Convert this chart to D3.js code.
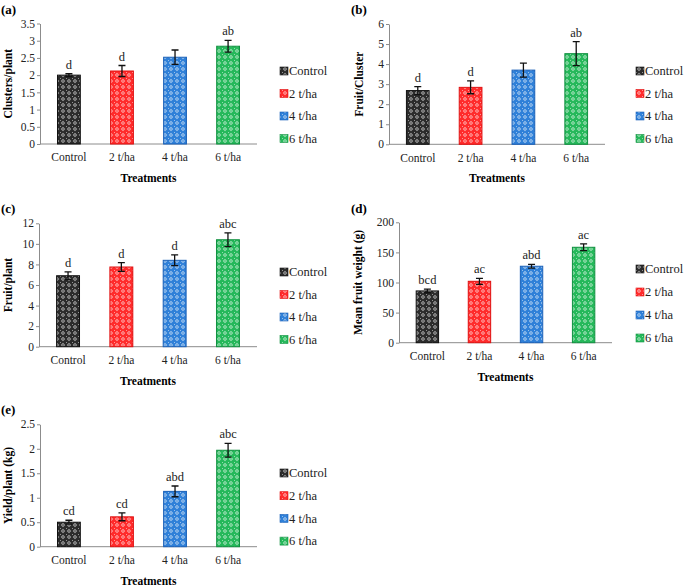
<!DOCTYPE html>
<html><head><meta charset="utf-8">
<script src="https://cdn.jsdelivr.net/npm/d3@7"></script>
<style>body{margin:0;background:#fff}svg{display:block;font-family:"Liberation Serif","Times New Roman",serif}</style>
</head><body><svg id="c" width="685" height="588"></svg>
<script>
const categories = ["Control", "2 t/ha", "4 t/ha", "6 t/ha"];
const colors = ["#2b2b2b", "#ff2b2b", "#2f80d8", "#25b85a"];
const borders = ["#111111", "#e01010", "#1a60b8", "#119040"];

const clustersPerPlant = [2.0, 2.12, 2.52, 2.84];
const clustersErr = [0.04, 0.16, 0.21, 0.17];
const clustersLetters = ["d", "d", "", "ab"];

const fruitPerCluster = [2.68, 2.84, 3.70, 4.52];
const fruitClusterErr = [0.2, 0.32, 0.35, 0.6];
const fruitClusterLetters = ["d", "d", "", "ab"];

const fruitPerPlant = [6.9, 7.75, 8.4, 10.4];
const fruitPlantErr = [0.38, 0.42, 0.52, 0.66];
const fruitPlantLetters = ["d", "d", "d", "abc"];

const meanFruitWeight = [86, 102, 127, 158.5];
const meanWeightErr = [3, 5, 3, 5.5];
const meanWeightLetters = ["bcd", "ac", "abd", "ac"];

const yieldPerPlant = [0.5, 0.61, 1.13, 1.97];
const yieldErr = [0.04, 0.08, 0.11, 0.14];
const yieldLetters = ["cd", "cd", "abd", "abc"];

const svg = d3.select("#c");
const defs = svg.append("defs");
colors.forEach((c, i) => {
  const p = defs.append("pattern").attr("id", "pat" + i).attr("patternUnits", "userSpaceOnUse")
    .attr("width", 6).attr("height", 6);
  p.append("rect").attr("width", 6).attr("height", 6).attr("fill", c);
  p.append("path").attr("d", "M3,0.8L5.2,3L3,5.2L0.8,3Z").attr("fill", "#fff").attr("opacity", 0.55);
  p.append("rect").attr("x", 2.4).attr("y", 2.4).attr("width", 1.2).attr("height", 1.2).attr("fill", c);
  p.append("rect").attr("x", 0).attr("y", 0).attr("width", 1).attr("height", 1).attr("fill", "#fff").attr("opacity", 0.5);
});

function panel(o) {
  const g = svg.append("g");
  const x = d3.scaleBand().domain(categories).range([o.x0, o.x1]).paddingInner(0.57).paddingOuter(0.33);
  const y = d3.scaleLinear().domain([0, o.max]).range([o.yb, o.yt]);
  const ticks = d3.range(0, o.max + o.step / 2, o.step);
  const ya = g.append("g").attr("transform", `translate(${o.x0},0)`)
    .call(d3.axisLeft(y).tickValues(ticks).tickSize(3).tickSizeOuter(0).tickFormat(d3.format("")));
  ya.select(".domain").attr("stroke", "#8c8c8c");
  ya.selectAll(".tick line").attr("stroke", "#8c8c8c");
  ya.selectAll("text").attr("font-size", 11.5).attr("fill", "#222").attr("font-family", "Liberation Serif").attr("x", -5);
  const xa = g.append("g").attr("transform", `translate(0,${o.yb})`)
    .call(d3.axisBottom(x).tickSize(0).tickSizeOuter(0));
  xa.select(".domain").attr("stroke", "#8c8c8c").attr("d", `M${o.x0},0H${o.x1}`);
  xa.selectAll("text").attr("font-size", 11.5).attr("fill", "#222").attr("font-family", "Liberation Serif").attr("dy", "1.25em");

  categories.forEach((c, i) => {
    const v = o.vals[i], e = o.err[i];
    g.append("rect").attr("x", x(c)).attr("y", y(v)).attr("width", x.bandwidth()).attr("height", y(0) - y(v))
      .attr("fill", `url(#pat${i})`).attr("stroke", borders[i]).attr("stroke-width", 1);
    const cx = x(c) + x.bandwidth() / 2;
    g.append("path").attr("d", `M${cx - 3.5},${y(v + e)}H${cx + 3.5}M${cx},${y(v + e)}V${y(v - e)}M${cx - 3.5},${y(v - e)}H${cx + 3.5}`)
      .attr("stroke", "#111").attr("stroke-width", 1.3).attr("fill", "none");
    if (o.letters[i]) g.append("text").attr("x", cx).attr("y", y(v + e) - 5).attr("text-anchor", "middle")
      .attr("font-size", 12.5).attr("fill", "#222").text(o.letters[i]);
  });

  g.append("text").attr("x", o.lx).attr("y", o.ly).attr("font-size", 13).attr("font-weight", "bold").text(o.label);
  g.append("text").attr("transform", `translate(${o.tx},${(o.yt + o.yb) / 2}) rotate(-90)`)
    .attr("text-anchor", "middle").attr("dy", "0.35em").attr("font-size", 11.5).attr("font-weight", "bold").text(o.title);
  g.append("text").attr("x", (o.x0 + o.x1) / 2).attr("y", o.yb + 38).attr("text-anchor", "middle")
    .attr("font-size", 11.5).attr("font-weight", "bold").text("Treatments");

  categories.forEach((c, i) => {
    const ly = o.legY + i * o.legStep;
    g.append("rect").attr("x", o.legX).attr("y", ly - 4).attr("width", 8).attr("height", 8).attr("fill", `url(#pat${i})`)
      .attr("stroke", borders[i]).attr("stroke-width", 0.6);
    g.append("text").attr("x", o.legX + 9).attr("y", ly).attr("dy", "0.35em").attr("font-size", 12.5).attr("fill", "#222").text(c);
  });
}

panel({x0: 40, x1: 257, yt: 23.5, yb: 144, max: 3.5, step: 0.5, vals: clustersPerPlant, err: clustersErr, letters: clustersLetters,
  label: "(a)", lx: 1, ly: 14, title: "Clusters/plant", tx: 8, legX: 280, legY: 71, legStep: 22.5});
panel({x0: 389, x1: 605, yt: 24, yb: 144.3, max: 6, step: 1, vals: fruitPerCluster, err: fruitClusterErr, letters: fruitClusterLetters,
  label: "(b)", lx: 351, ly: 14, title: "Fruit/Cluster", tx: 359, legX: 636, legY: 71, legStep: 22.5});
panel({x0: 39, x1: 257, yt: 223.3, yb: 346.7, max: 12, step: 2, vals: fruitPerPlant, err: fruitPlantErr, letters: fruitPlantLetters,
  label: "(c)", lx: 1, ly: 213, title: "Fruit/plant", tx: 8, legX: 280, legY: 272, legStep: 22.5});
panel({x0: 399, x1: 612, yt: 222.3, yb: 342.7, max: 200, step: 50, vals: meanFruitWeight, err: meanWeightErr, letters: meanWeightLetters,
  label: "(d)", lx: 351, ly: 213, title: "Mean fruit weight (g)", tx: 358, legX: 636, legY: 269, legStep: 23});
panel({x0: 40, x1: 257, yt: 424.3, yb: 546.7, max: 2.5, step: 0.5, vals: yieldPerPlant, err: yieldErr, letters: yieldLetters,
  label: "(e)", lx: 1, ly: 414, title: "Yield/plant (kg)", tx: 8, legX: 280, legY: 473, legStep: 22.7});
</script></body></html>
